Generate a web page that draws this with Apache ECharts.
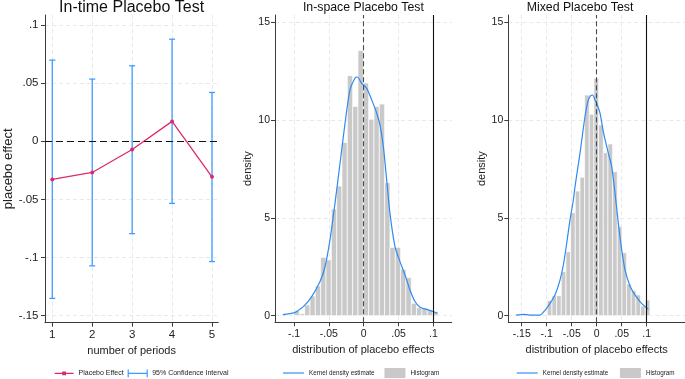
<!DOCTYPE html>
<html><head><meta charset="utf-8">
<script src="https://cdn.jsdelivr.net/npm/echarts@6/dist/echarts.min.js"></script>
<style>html,body{margin:0;padding:0;background:#fff}#c{width:685px;height:379px}</style>
</head><body><div id="c"></div>
<script>
// ---------- data ----------
const periods = [1, 2, 3, 4, 5];
const placeboEffect = [-0.0328, -0.0268, -0.0071, 0.0171, -0.0305];
const ciLower = [-0.1351, -0.1071, -0.0794, -0.0534, -0.1034];
const ciUpper = [0.0698, 0.0535, 0.0649, 0.0878, 0.0420];

const spaceBinStart = -0.1;
const spaceBinWidth = 0.00765;
const spaceHist = [0.25, 0.1, 0.55, 1.0, 1.52, 2.98, 2.85, 5.45, 6.63, 8.85, 12.27, 10.69, 13.55, 11.9,
  10.04, 10.69, 10.82, 6.8, 3.49, 3.49, 2.37, 1.94, 0.63, 0.4, 0.37, 0.3, 0.2];
const spaceKdeX = [-0.116, -0.1, -0.0986, -0.0866, -0.0746, -0.0627, -0.0555, -0.0484, -0.0412, -0.034,
  -0.0268, -0.0197, -0.0125, -0.0092, -0.0029, 0.0043, 0.0115, 0.0187, 0.0234, 0.0282, 0.033, 0.0377,
  0.0449, 0.0521, 0.0593, 0.0664, 0.0736, 0.0808, 0.0904, 0.1, 0.106];
const spaceKdeY = [0.05, 0.14, 0.16, 0.46, 0.97, 1.74, 2.5, 3.87, 5.74, 7.79,
  9.83, 11.54, 12.14, 12.2, 11.88, 11.62, 11.03, 10.35, 9.75, 8.64, 6.94, 5.23,
  3.53, 2.76, 2.08, 1.31, 0.72, 0.43, 0.32, 0.2, 0.12];

const mixedBinStart = -0.0988;
const mixedBinWidth = 0.00933;
const mixedHist = [0.77, 1.02, 1.02, 2.25, 3.27, 5.27, 6.37, 7.07, 11.28, 10.3, 12.14, 9.75, 8.33, 8.78,
  7.36, 4.55, 3.22, 1.62, 1.28, 1.06, 0.49, 0.8];
const mixedKdeX = [-0.1614, -0.1467, -0.1334, -0.1134, -0.1034, -0.0934, -0.0834, -0.0734, -0.0667, -0.06,
  -0.0534, -0.0467, -0.0434, -0.0334, -0.0234, -0.0167, -0.012, -0.008, -0.0034, 0, 0.0066, 0.0133,
  0.0233, 0.03, 0.0366, 0.0433, 0.05, 0.0566, 0.0666, 0.0766, 0.0866, 0.0966, 0.1033];
const mixedKdeY = [0.03, 0.07, 0.03, 0.03, 0.27, 0.63, 1.06, 1.82, 2.59, 3.7,
  4.9, 5.9, 6.6, 8.3, 10.18, 11.03, 11.25, 11.28, 11.03, 10.86, 10.35, 9.4,
  8.3, 7.62, 6.26, 4.72, 3.36, 2.34, 1.52, 1.06, 0.72, 0.46, 0.32];

const leftYTicks = [-0.15, -0.1, -0.05, 0, 0.05, 0.1];
const densityTicks = [0, 5, 10, 15];
const spaceXTicks = [-0.1, -0.05, 0, 0.05, 0.1];
const mixedXTicks = [-0.15, -0.1, -0.05, 0, 0.05, 0.1];

// ---------- helpers ----------
const FONT = '"Liberation Sans", Arial, Helvetica, sans-serif';
const fmt = v => String(+(+v).toFixed(4)).replace(/^(-?)0\./, '$1.');
const AX = '#3c3c3c';
const GRIDC = '#e9e9e9';
const RED = '#dd2a6a';
const CIBLUE = '#3f9bff';
const KBLUE = '#2f8af2';

function histData(start, width, heights) {
  return heights.map((h, i) => [start + i * width, start + (i + 1) * width, h]);
}
function kde(xs, ys) { return xs.map((x, i) => [x, ys[i]]); }

function renderBar(params, api) {
  const p0 = api.coord([api.value(0), api.value(2)]);
  const p1 = api.coord([api.value(1), 0]);
  return {
    type: 'rect',
    shape: { x: p0[0], y: p0[1], width: p1[0] - p0[0], height: p1[1] - p0[1] },
    style: { fill: '#c9c9c9', stroke: '#ffffff', lineWidth: 0.7 }
  };
}
function renderCI(params, api) {
  const x = api.value(0);
  const lo = api.coord([x, api.value(1)]);
  const hi = api.coord([x, api.value(2)]);
  const cap = 3;
  const st = { stroke: CIBLUE, lineWidth: 1.3 };
  return {
    type: 'group',
    children: [
      { type: 'line', shape: { x1: lo[0], y1: lo[1], x2: hi[0], y2: hi[1] }, style: st },
      { type: 'line', shape: { x1: lo[0] - cap, y1: lo[1], x2: lo[0] + cap, y2: lo[1] }, style: st },
      { type: 'line', shape: { x1: hi[0] - cap, y1: hi[1], x2: hi[0] + cap, y2: hi[1] }, style: st }
    ]
  };
}

function xAxisCfg(gi, min, max, ticks, name) {
  return {
    gridIndex: gi, type: 'value', min: min, max: max,
    axisLine: { show: true, onZero: false, lineStyle: { color: AX, width: 1 } },
    axisTick: { show: true, length: 4, customValues: ticks, lineStyle: { color: AX } },
    axisLabel: { customValues: ticks, formatter: fmt, margin: 6, fontSize: gi === 0 ? 11.5 : 10.5, color: '#222', fontFamily: FONT },
    splitLine: { show: true, lineStyle: { color: GRIDC, type: [4, 3], width: 1 } },
    name: name, nameLocation: 'middle', nameGap: 22,
    nameTextStyle: { fontSize: 11, color: '#222', fontFamily: FONT }
  };
}
function yAxisCfg(gi, min, max, ticks, name, gap, fs) {
  return {
    gridIndex: gi, type: 'value', min: min, max: max,
    axisLine: { show: true, onZero: false, lineStyle: { color: AX, width: 1 } },
    axisTick: { show: true, length: 4, customValues: ticks, lineStyle: { color: AX } },
    axisLabel: { customValues: ticks, formatter: fmt, margin: gi === 0 ? 6.5 : 5, fontSize: gi === 0 ? 11.5 : 10.5, color: '#222', fontFamily: FONT },
    splitLine: { show: true, lineStyle: { color: GRIDC, type: [4, 3], width: 1 } },
    name: name, nameLocation: 'middle', nameGap: gap,
    nameTextStyle: { fontSize: fs, color: '#222', fontFamily: FONT }
  };
}

const refLines = {
  symbol: 'none', silent: true, label: { show: false }, animation: false,
  data: [
    { xAxis: 0, lineStyle: { color: '#4a4a4a', type: [5, 3], width: 1.1 } },
    { xAxis: 0.1, lineStyle: { color: '#111', type: 'solid', width: 1.1 } }
  ]
};
const KDE_ICON = 'path://M0,0L22,0L22,1.2L0,1.2Z';

const chart = echarts.init(document.getElementById('c'));
chart.setOption({
  animation: false,
  backgroundColor: '#fff',
  textStyle: { fontFamily: FONT },
  title: [
    { text: 'In-time Placebo Test', left: 131.6, top: 0, textAlign: 'center', padding: 0,
      textStyle: { fontSize: 16, fontWeight: 'normal', color: '#111', fontFamily: FONT } },
    { text: 'In-space Placebo Test', left: 363.4, top: 1.5, textAlign: 'center', padding: 0,
      textStyle: { fontSize: 12.3, fontWeight: 'normal', color: '#111', fontFamily: FONT } },
    { text: 'Mixed Placebo Test', left: 580, top: 1.5, textAlign: 'center', padding: 0,
      textStyle: { fontSize: 12.3, fontWeight: 'normal', color: '#111', fontFamily: FONT } }
  ],
  grid: [
    { left: 45, top: 15, width: 173.3, height: 307.7 },
    { left: 275, top: 15, width: 176.7, height: 307.3 },
    { left: 508.3, top: 15, width: 176.7, height: 307.3 }
  ],
  xAxis: [
    xAxisCfg(0, 0.817, 5.158, periods, 'number of periods'),
    xAxisCfg(1, -0.1273, 0.1263, spaceXTicks, 'distribution of placebo effects'),
    xAxisCfg(2, -0.1768, 0.1766, mixedXTicks, 'distribution of placebo effects')
  ],
  yAxis: [
    yAxisCfg(0, -0.156, 0.1086, leftYTicks, 'placebo effect', 30.5, 13),
    yAxisCfg(1, -0.34, 15.37, densityTicks, 'density', 21.5, 11),
    yAxisCfg(2, -0.34, 15.37, densityTicks, 'density', 21, 11)
  ],
  legend: [
    { left: 54, top: 369, padding: 0, itemWidth: 19, itemHeight: 8, itemGap: 4,
      textStyle: { fontSize: 7, color: '#222', fontFamily: FONT },
      data: [
        { name: 'Placebo Effect', icon: 'path://M0,4L19,4M8.2,2.7L10.8,2.7L10.8,5.3L8.2,5.3Z',
          itemStyle: { color: RED, borderColor: RED, borderWidth: 1.2 } },
        { name: '95% Confidence Interval', icon: 'path://M0,0L0,8M0,4L20,4M20,0L20,8',
          itemStyle: { color: 'rgba(0,0,0,0)', borderColor: CIBLUE, borderWidth: 1.2 } }
      ] },
    { left: 283, top: 368, padding: 0, itemWidth: 21, itemHeight: 10, itemGap: 10,
      textStyle: { fontSize: 6.3, color: '#222', fontFamily: FONT },
      data: [
        { name: 'Kernel density estimate', icon: KDE_ICON, itemStyle: { color: KBLUE, borderWidth: 0 } },
        { name: 'Histogram', icon: 'rect', itemStyle: { color: '#c9c9c9', borderWidth: 0 } }
      ] },
    { left: 516.7, top: 368, padding: 0, itemWidth: 21, itemHeight: 10, itemGap: 10,
      textStyle: { fontSize: 6.3, color: '#222', fontFamily: FONT },
      data: [
        { name: 'Kernel density estimate ', icon: KDE_ICON, itemStyle: { color: KBLUE, borderWidth: 0 } },
        { name: 'Histogram ', icon: 'rect', itemStyle: { color: '#c9c9c9', borderWidth: 0 } }
      ] }
  ],
  series: [
    { name: '95% Confidence Interval', type: 'custom', xAxisIndex: 0, yAxisIndex: 0,
      itemStyle: { color: CIBLUE },
      renderItem: renderCI, data: periods.map((p, i) => [p, ciLower[i], ciUpper[i]]), z: 2 },
    { name: 'Placebo Effect', type: 'line', xAxisIndex: 0, yAxisIndex: 0,
      data: periods.map((p, i) => [p, placeboEffect[i]]),
      symbol: 'circle', symbolSize: 4, showSymbol: true,
      lineStyle: { color: RED, width: 1.3 }, itemStyle: { color: RED }, z: 3,
      markLine: { symbol: 'none', silent: true, label: { show: false },
        data: [{ yAxis: 0 }], lineStyle: { color: '#111', type: [7, 4], width: 1.2 } } },

    { name: 'Histogram', type: 'custom', xAxisIndex: 1, yAxisIndex: 1,
      itemStyle: { color: '#c9c9c9' },
      renderItem: renderBar, data: histData(spaceBinStart, spaceBinWidth, spaceHist), z: 1 },
    { name: 'Kernel density estimate', type: 'line', xAxisIndex: 1, yAxisIndex: 1,
      data: kde(spaceKdeX, spaceKdeY), showSymbol: false, symbol: 'none', smooth: 0.25,
      lineStyle: { color: KBLUE, width: 1.2 }, itemStyle: { color: KBLUE }, z: 3,
      markLine: refLines },

    { name: 'Histogram ', type: 'custom', xAxisIndex: 2, yAxisIndex: 2,
      itemStyle: { color: '#c9c9c9' },
      renderItem: renderBar, data: histData(mixedBinStart, mixedBinWidth, mixedHist), z: 1 },
    { name: 'Kernel density estimate ', type: 'line', xAxisIndex: 2, yAxisIndex: 2,
      data: kde(mixedKdeX, mixedKdeY), showSymbol: false, symbol: 'none', smooth: 0.25,
      lineStyle: { color: KBLUE, width: 1.2 }, itemStyle: { color: KBLUE }, z: 3,
      markLine: refLines }
  ]
});
</script></body></html>
